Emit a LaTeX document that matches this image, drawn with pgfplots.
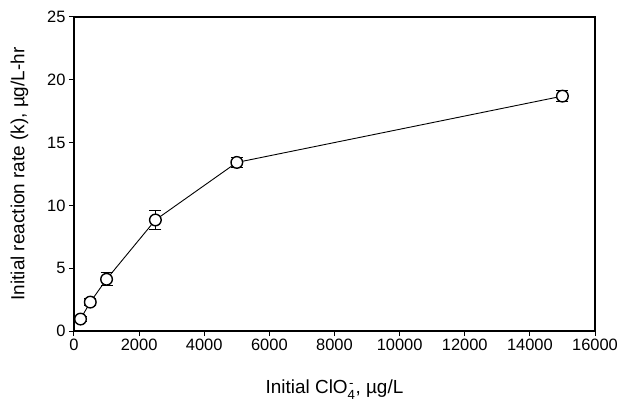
\documentclass[border=0pt]{standalone}
\usepackage{fontspec}
\setmainfont{Liberation Sans}
\usepackage{amsmath}
\usepackage{pgfplots}
\pgfplotsset{compat=1.18}

\begin{document}
\begin{tikzpicture}
\begin{axis}[
    name=ax,
    scale only axis,
    width=521bp, height=314bp,
    xmin=0, xmax=16000, ymin=0, ymax=25,
    xtick={0,2000,...,16000}, ytick={0,5,...,25},
    scaled x ticks=false,
    xticklabel style={/pgf/number format/1000 sep={}},
    /pgf/number format/assume math mode=true,
    tick align=outside, tick pos=left,
    major tick length=5bp,
    axis line style={line width=1.2bp},
    every tick/.style={black, line width=1bp},
    tick label style={font=\fontsize{16.5}{19}\selectfont},
    label style={font=\fontsize{19}{22}\selectfont},
    xlabel={Initial ClO$_{\text{4}}^{\hspace{1.5pt}\text{-}}$, µg/L},
    ylabel={Initial reaction rate (k), µg/L-hr},
    xlabel style={yshift=-22bp},
    ylabel style={yshift=12bp},
]
\addplot[black, line width=0.9bp, mark=*, mark size=5.8bp,
    mark options={fill=white, draw=black, line width=1.4bp},
    error bars/.cd, y dir=both, y explicit,
    error bar style={line width=1bp},
    error mark options={rotate=90, mark size=6bp, line width=1bp}]
  coordinates {
    (200,0.95) +- (0,0.2)
    (500,2.3) +- (0,0.25)
    (1000,4.12) +- (0,0.5)
    (2500,8.84) +- (0,0.72)
    (5000,13.42) +- (0,0.42)
    (15000,18.7) +- (0,0.42)
  };
\end{axis}
\pgfresetboundingbox
\path ([shift={(-74bp,-72bp)}]ax.south west) rectangle ([shift={(24bp,17bp)}]ax.north east);
\end{tikzpicture}
\end{document}
